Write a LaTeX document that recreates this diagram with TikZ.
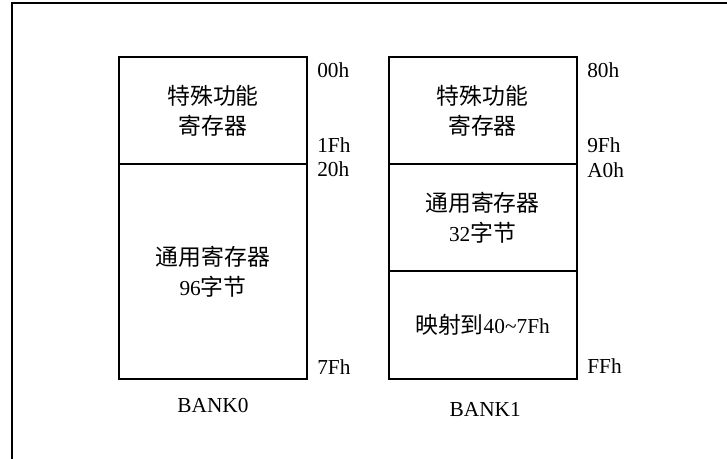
\documentclass[tikz,border=0pt]{standalone}
\usepackage{fontspec}
\setmainfont{Liberation Serif}
\newfontfamily\cjk[Scale=1.07]{Noto Sans CJK SC}
\usepackage{tikz}
\usetikzlibrary{positioning}
\tikzstyle{every node}+=[inner sep=0pt]
\tikzstyle{block} = [rectangle, draw, line width=1.5pt, outer sep=0pt, font=\fontsize{16}{22.5}\selectfont, align=center, minimum width=141pt]
\tikzstyle{value} = [font=\fontsize{16}{19}\selectfont, anchor=base west]
\tikzstyle{bank} = [font=\fontsize{16}{19}\selectfont]

\begin{document}
\begin{tikzpicture}[x=0.75pt, y=-0.75pt, node distance=0pt]
            \useasboundingbox (0,0) rectangle (727,459);
            % Frame
            \draw [line width=0.8pt] (12,459) -- (12,3) -- (727,3);
            % Place nodes: BANK0
            \node [block, minimum height=80.25pt] (sfr0) at (213,110.5) {{\cjk 特殊功能}\\{\cjk 寄存器}};
            \node [block, minimum height=161.25pt, below=of sfr0] (gpr0) {{\cjk 通用寄存器}\\96{\cjk 字节}};
            \node [bank, below=14.25pt of gpr0] (bank0) {BANK0};
            \node [value] (a00) at (317,78) {00h};
            \node [value] (a1f) at (317,153) {1Fh};
            \node [value] (a20) at (317,177) {20h};
            \node [value] (a7f) at (317,374) {7Fh};
            % Place nodes: BANK1
            \node [block, minimum height=80.25pt] (sfr1) at (482.5,110.5) {{\cjk 特殊功能}\\{\cjk 寄存器}};
            \node [block, minimum height=80.25pt, below=of sfr1] (gpr1) {{\cjk 通用寄存器}\\32{\cjk 字节}};
            \node [block, minimum height=81pt, below=of gpr1] (map1) {{\cjk 映射到}40\textasciitilde 7Fh};
            \node [bank, below=17.25pt of map1, xshift=2pt] (bank1) {BANK1};
            \node [value] (a80) at (587,78) {80h};
            \node [value] (a9f) at (587,153) {9Fh};
            \node [value] (aa0) at (587,178) {A0h};
            \node [value] (aff) at (587,373) {FFh};
          \end{tikzpicture}
\end{document}
